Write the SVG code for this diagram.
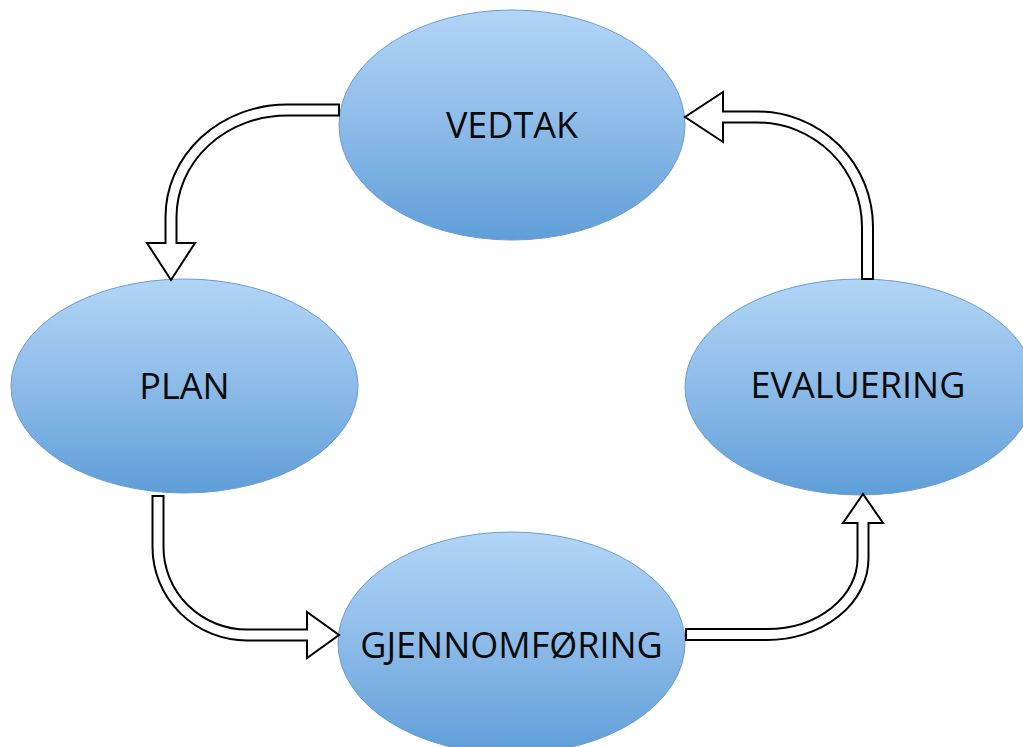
<svg xmlns="http://www.w3.org/2000/svg" width="1023" height="747" viewBox="0 0 1023 747">
  <style>
    .node { fill: url(#blueFill); stroke: #6b9bcf; stroke-width: 1; }
    .label { font-family: "Open Sans", "Liberation Sans", sans-serif; font-size: 36px; fill: #0a0a0a; text-anchor: middle; }
    .shaft-out { fill: none; stroke: #000; stroke-width: 13; stroke-linecap: butt; }
    .shaft-in { fill: none; stroke: #fff; stroke-width: 9; stroke-linecap: butt; }
    .head { fill: #fff; stroke: #000; stroke-width: 2; stroke-linejoin: miter; }
  </style>
  <defs>
    <linearGradient id="blueFill" x1="0" y1="0" x2="0" y2="1">
      <stop offset="0" stop-color="#b2d5f6"/>
      <stop offset="0.5" stop-color="#8dbbe9"/>
      <stop offset="1" stop-color="#5f9ed8"/>
    </linearGradient>
  </defs>
  <rect width="1023" height="747" fill="#fff"/>

  <g id="node-vedtak">
    <ellipse class="node" cx="512" cy="125" rx="173" ry="115"/>
    <text class="label" x="512" y="138">VEDTAK</text>
  </g>
  <g id="node-plan">
    <ellipse class="node" cx="184.5" cy="386" rx="173.5" ry="107"/>
    <text class="label" x="184.5" y="399">PLAN</text>
  </g>
  <g id="node-evaluering">
    <ellipse class="node" cx="860" cy="387" rx="175" ry="108"/>
    <text class="label" x="858" y="398">EVALUERING</text>
  </g>
  <g id="node-gjennomforing">
    <ellipse class="node" cx="511.5" cy="643" rx="173.5" ry="111"/>
    <text class="label" x="511.5" y="658">GJENNOMFØRING</text>
  </g>

  <g id="connectors">
    <!-- VEDTAK to PLAN -->
    <polygon class="head" points="147,243 195,243 171,280"/>
    <path class="shaft-out" d="M340,110 L287,110 A116,107 0 0 0 171,217 L171,243"/>
    <path class="shaft-in" d="M338,110 L287,110 A116,107 0 0 0 171,217 L171,245"/>

    <!-- PLAN to GJENNOMFØRING -->
    <polygon class="head" points="307,612 307,658 339,635"/>
    <path class="shaft-out" d="M158,495 L158,547 A89,88 0 0 0 247,635 L307,635"/>
    <path class="shaft-in" d="M158,497 L158,547 A89,88 0 0 0 247,635 L309,635"/>

    <!-- GJENNOMFØRING to EVALUERING -->
    <polygon class="head" points="843,523 883,523 863,494"/>
    <path class="shaft-out" d="M685,634.5 L767,634.5 A96,76 0 0 0 863,558.5 L863,523"/>
    <path class="shaft-in" d="M687,634.5 L767,634.5 A96,76 0 0 0 863,558.5 L863,521"/>

    <!-- EVALUERING to VEDTAK -->
    <polygon class="head" points="723,92 723,142 685,117"/>
    <path class="shaft-out" d="M867.5,280 L867.5,227 A110,110 0 0 0 757.5,117 L723,117"/>
    <path class="shaft-in" d="M867.5,278 L867.5,227 A110,110 0 0 0 757.5,117 L721,117"/>
  </g>
</svg>
